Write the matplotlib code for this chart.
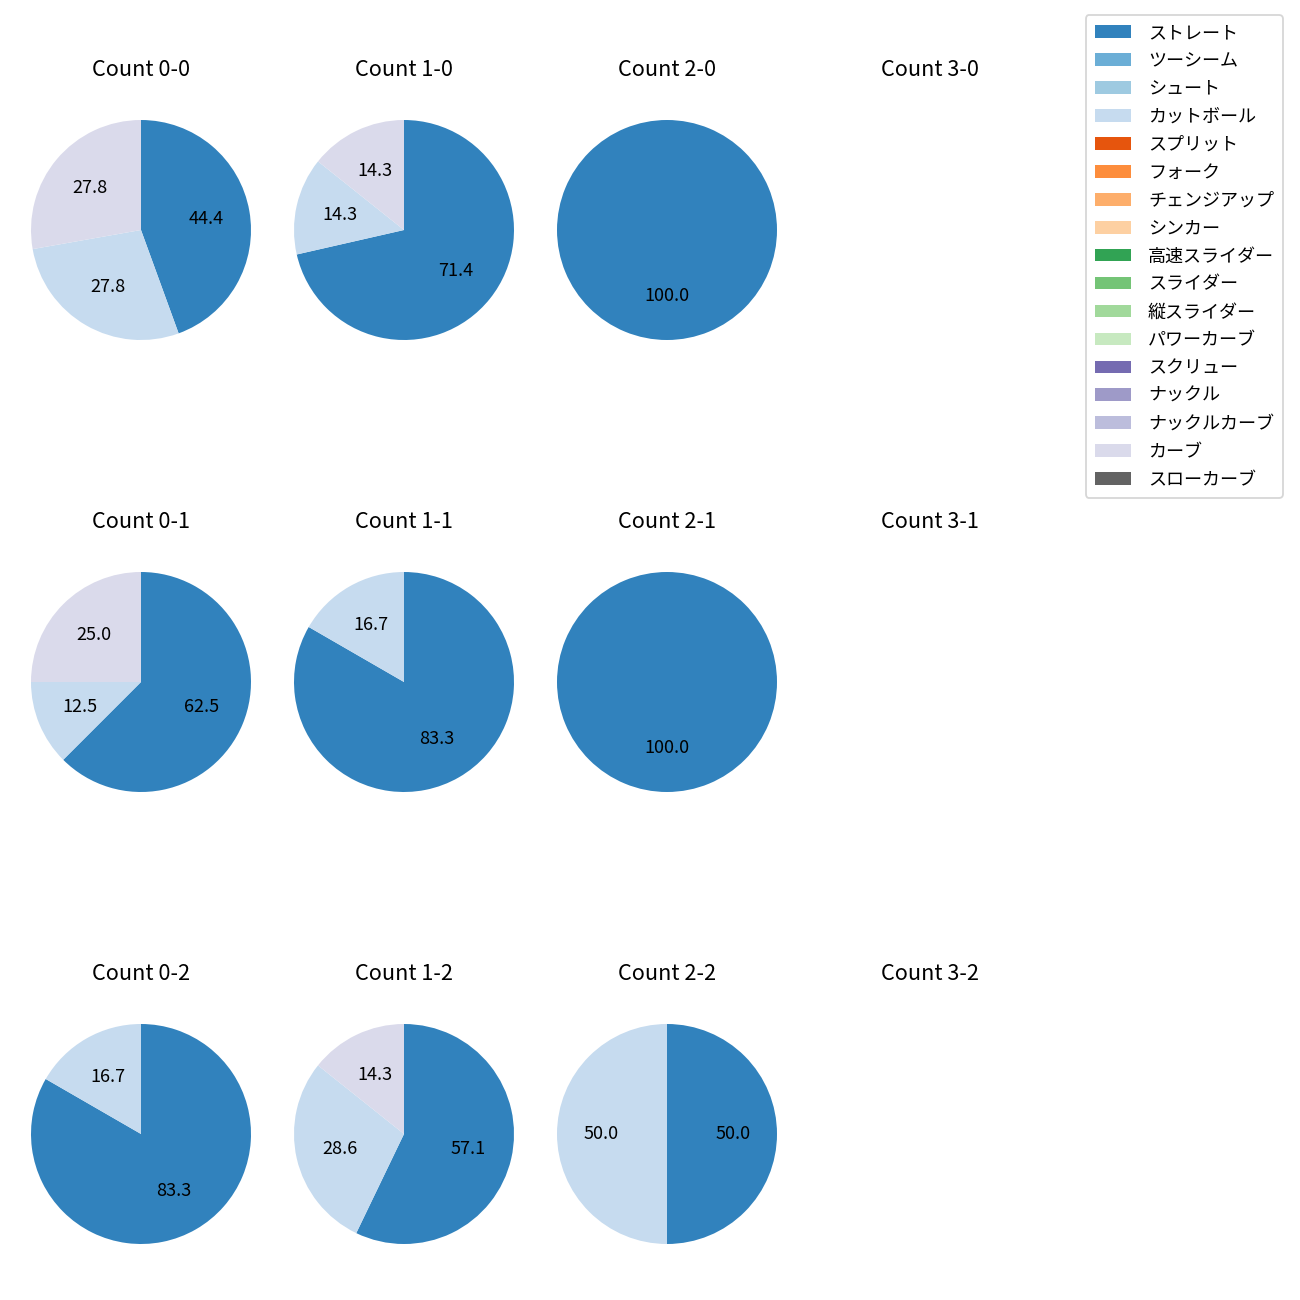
import numpy as np
import matplotlib
matplotlib.use("Agg")
import matplotlib.pyplot as plt
from matplotlib.patches import Patch

plt.rcParams['font.family'] = ['Noto Sans CJK JP', 'DejaVu Sans']

pitch_types = ['ストレート', 'ツーシーム', 'シュート', 'カットボール', 'スプリット', 'フォーク',
               'チェンジアップ', 'シンカー', '高速スライダー', 'スライダー', '縦スライダー',
               'パワーカーブ', 'スクリュー', 'ナックル', 'ナックルカーブ', 'カーブ', 'スローカーブ']

balls = [0, 1, 2, 3]
strikes = [0, 1, 2]

# pitch counts per ball-strike count (only the types that were thrown)
counts = {
    (0, 0): {'ストレート': 8, 'カットボール': 5, 'カーブ': 5},
    (1, 0): {'ストレート': 5, 'カットボール': 1, 'カーブ': 1},
    (2, 0): {'ストレート': 3},
    (3, 0): {},
    (0, 1): {'ストレート': 5, 'カットボール': 1, 'カーブ': 2},
    (1, 1): {'ストレート': 5, 'カットボール': 1},
    (2, 1): {'ストレート': 2},
    (3, 1): {},
    (0, 2): {'ストレート': 5, 'カットボール': 1},
    (1, 2): {'ストレート': 4, 'カットボール': 2, 'カーブ': 1},
    (2, 2): {'ストレート': 1, 'カットボール': 1},
    (3, 2): {},
}

cmap = plt.get_cmap('tab20c')
colors = {p: cmap(i) for i, p in enumerate(pitch_types)}

W = H = 1300
fig = plt.figure(figsize=(10, 10), dpi=130)

size = 275
for s in strikes:
    for b in balls:
        cx = 141 + 263 * b
        cy = 230 + 452 * s
        ax = fig.add_axes([(cx - size / 2) / W, 1 - (cy + size / 2) / H, size / W, size / H])
        data = counts[(b, s)]
        ax.set_title(f'Count {b}-{s}', pad=9)
        if data:
            names = [p for p in pitch_types if p in data]
            vals = [data[p] for p in names]
            ax.pie(vals, colors=[colors[p] for p in names], autopct='%.1f',
                   startangle=90, counterclock=False)
        else:
            ax.axis('off')

handles = [Patch(facecolor=colors[p], label=p) for p in pitch_types]
fig.legend(handles=handles, loc='upper right', bbox_to_anchor=(1283 / W, 1 - 15 / H),
           borderaxespad=0, labelspacing=0.55, handletextpad=0.95, borderpad=0.5)

fig.savefig('out.png', dpi=130)
